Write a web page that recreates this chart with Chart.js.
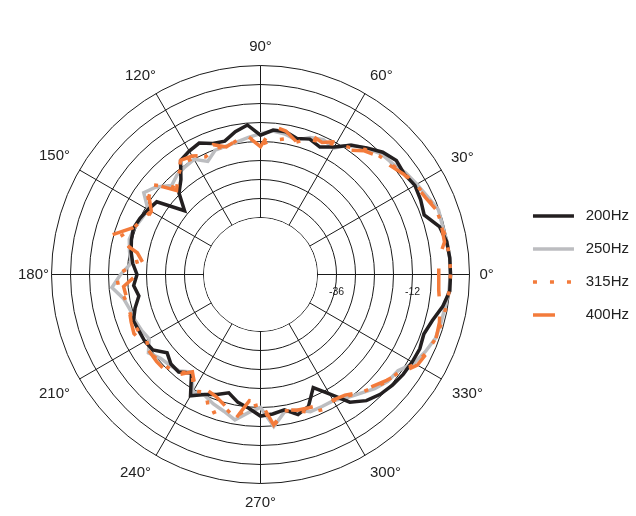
<!DOCTYPE html>
<html>
<head>
<meta charset="utf-8">
<script src="https://cdn.jsdelivr.net/npm/chart.js@4.4.1/dist/chart.umd.min.js"></script>
<style>
html,body{margin:0;padding:0;background:#fff;}
#wrap{width:636px;height:516px;position:relative;}
</style>
</head>
<body>
<div id="wrap"><canvas id="c"></canvas></div>
<script>
// Angles in degrees, counter-clockwise from the right (0°)
const angles = [0,5,10,15,20,25,30,35,40,45,50,55,60,65,70,75,80,85,90,95,100,105,110,115,120,125,130,135,140,145,150,155,160,165,170,175,180,185,190,195,200,205,210,215,220,225,230,235,240,245,250,255,260,265,270,275,280,285,290,295,300,305,310,315,320,325,330,335,340,345,350,355];

const seriesNames = ['200Hz','250Hz','315Hz','400Hz'];

// Level in dB at each angle
const s200 = [0,0,-0.3,-1.5,-5,-4.2,-3.7,-4.6,-4.0,-5.4,-7.8,-10.2,-13.5,-15.6,-14.5,-15.5,-14.2,-14.2,-16,-12.6,-14.2,-16.4,-16,-14.2,-15,-16,-20.9,-23.6,-28.7,-20,-19,-18,-17.3,-17.8,-18.5,-19.5,-21,-19.8,-21,-19,-17.3,-17.7,-17.8,-18.5,-21.5,-20,-19.8,-22,-15.8,-18.2,-19.7,-21.3,-19,-17.6,-15.3,-15.8,-16.6,-14.2,-15.7,-20.6,-16.5,-10.8,-8,-6.5,-5.6,-5,-4.7,-4.5,-5.1,-3.8,-1.6,0];
const s250 = [0,0,-0.2,-0.5,-0.2,-1.8,-3,-4,-5.5,-6.1,-8,-10,-13.9,-13,-14,-16,-15,-14.5,-15.5,-16.5,-17.5,-18,-18.2,-20.6,-18,-18.5,-19,-20.3,-17,-15,-19,-18.5,-17.5,-17.1,-18,-19,-15.8,-12.9,-16.1,-17.3,-17.8,-18.5,-19.4,-16.8,-18.8,-19.5,-20.2,-22.4,-17.2,-18,-16.5,-15.3,-13.4,-16.2,-18,-11.8,-16,-15.7,-13.9,-14,-14,-12.5,-11,-9,-7.5,-7,-4,-2.5,-1.2,-1,-0.8,-0.3];
const s315 = [0,0,-0.3,-0.6,-0.8,-2,-3.3,-4.5,-6,-7,-8.5,-11,-12.5,-14,-14.5,-16.7,-16.5,-17.5,-19,-16.4,-17,-18.4,-17.5,-19,-17.6,-17,-19.5,-21,-16,-16.5,-20,-19,-17.2,-14,-19.5,-21,-14.5,-15,-16.5,-17,-17,-17.5,-18.5,-17,-18,-18.5,-19.5,-22.5,-17.5,-19,-13,-16.5,-14,-18,-19,-12,-16.3,-15.5,-13.6,-13,-14,-13,-11.2,-9.5,-7.5,-6.5,-3.5,-2,-1.1,-0.8,-0.5,-0.2];
const s400 = [-3.7,-3.5,-1.0,-0.8,-0.8,-2.5,-3.5,-4.8,-6.5,-7.3,-9.0,-12.0,-11.5,-14.0,-13.2,-16.5,-14.0,-13.0,-19.6,-16.4,-16.9,-18.3,-16.4,-18.5,-16.8,-16.0,-19.5,-22.5,-15.5,-17.0,-20.2,-19.8,-17.0,-11.5,-20.5,-23.0,-21.0,-16.6,-17.1,-17.1,-16.5,-15.9,-17.0,-17.3,-17.2,-17.3,-18.5,-22.5,-18.8,-19.8,-19.0,-17.0,-13.5,-20.0,-19.8,-12.3,-16.6,-15.6,-15.2,-14.7,-14.2,-13.5,-11.4,-10.0,-8.0,-5.9,-2.8,-1.8,-1.0,-1.5,-2.5,-3.5];

// Radial axis
const rMin = -60, rMax = 6, rStep = 6, innerLimit = -42;
const ringTickLabels = [-36, -12];

const FONT = '"Liberation Sans", Arial, Helvetica, sans-serif';

// Chart.js radar runs clockwise; reorder so index i sits at (360 - 5i) degrees.
const order = angles.map((a, i) => (angles.length - i) % angles.length);
const labels = order.map(k => (angles[k] % 30 === 0 ? angles[k] + '°' : ''));
const pick = arr => order.map(k => arr[k]);

const labelPad = {'0°':10,'30°':11,'60°':10,'90°':9.5,'120°':0,'150°':11,'180°':2.5,'210°':11,'240°':10,'270°':10,'300°':10,'330°':12};
const labelLineHeight = {'120°':'35px','30°':'14px'};

const decor = {
  id: 'decor',
  beforeDatasetsDraw(chart) {
    const s = chart.scales.r, ctx = chart.ctx;
    const r0 = s.getDistanceFromCenterForValue(innerLimit);
    ctx.save();
    ctx.beginPath();
    ctx.arc(s.xCenter, s.yCenter, r0 - 0.5, 0, Math.PI * 2);
    ctx.fillStyle = '#ffffff';
    ctx.fill();
    ctx.font = '10.5px ' + FONT;
    ctx.fillStyle = '#222';
    ctx.textAlign = 'center';
    ctx.textBaseline = 'middle';
    ringTickLabels.forEach(v => {
      ctx.fillText(String(v), s.xCenter + s.getDistanceFromCenterForValue(v), s.yCenter + 17.5);
    });
    ctx.restore();
  }
};

const common = {fill:false, pointRadius:0, pointHoverRadius:0, tension:0, borderWidth:3.5, pointStyle:'line', borderCapStyle:'butt', borderJoinStyle:'miter'};

new Chart(document.getElementById('c'), {
  type: 'radar',
  data: {
    labels: labels,
    datasets: [
      Object.assign({label: seriesNames[0], data: pick(s200), borderColor:'#231f20', order:3}, common),
      Object.assign({label: seriesNames[1], data: pick(s250), borderColor:'#bcbdc0', order:4}, common),
      Object.assign({label: seriesNames[2], data: pick(s315), borderColor:'#f37b3b', borderDash:[4,13], order:2}, common),
      Object.assign({label: seriesNames[3], data: pick(s400), borderColor:'#f37b3b', borderDash:[22,20], order:1}, common)
    ]
  },
  options: {
    responsive: true,
    maintainAspectRatio: false,
    animation: false,
    events: [],
    layout: {padding: {top: 15, right: -3, left: 0, bottom: 0}},
    plugins: {
      legend: {
        position: 'right',
        labels: {
          usePointStyle: true,
          pointStyleWidth: 41,
          padding: 18,
          color: '#222',
          font: {family: FONT, size: 15},
          sort: (a, b) => a.datasetIndex - b.datasetIndex,
          generateLabels: chart => Chart.defaults.plugins.legend.labels.generateLabels(chart).map(item => {
            const ds = chart.data.datasets[item.datasetIndex];
            item.lineDash = ds.borderDash || [];
            item.lineDashOffset = 0;
            item.lineWidth = ds.borderWidth;
            item.strokeStyle = ds.borderColor;
            item.lineCap = 'butt';
            item.pointStyle = 'line';
            item.rotation = 180;
            item.text = ' ' + item.text;
            return item;
          })
        }
      },
      tooltip: {enabled: false}
    },
    scales: {
      r: {
        min: rMin,
        max: rMax,
        startAngle: 90,
        ticks: {display: false, stepSize: rStep},
        grid: {circular: true, lineWidth: 1, color: c => (c.tick && c.tick.value >= innerLimit ? '#1a1a1a' : 'rgba(0,0,0,0)')},
        angleLines: {display: true, lineWidth: 1, color: c => (c.index % 6 === 0 ? '#1a1a1a' : 'rgba(0,0,0,0)')},
        pointLabels: {
          display: true,
          color: '#222',
          font: c => ({family: FONT, size: 15, lineHeight: labelLineHeight[c.label] || 1.2}),
          padding: c => (labelPad[c.label] !== undefined ? labelPad[c.label] : 0)
        },
        afterSetDimensions: s => { s.xCenter = 260.5; s.yCenter = 274.5; s.drawingArea = 209; }
      }
    }
  },
  plugins: [decor]
});
</script>
</body>
</html>
